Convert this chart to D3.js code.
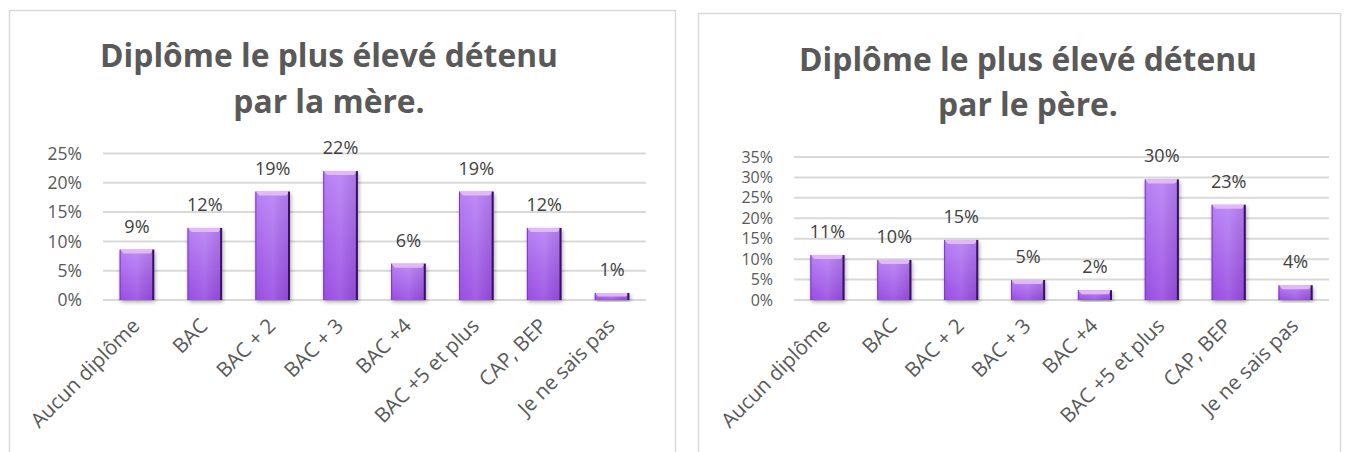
<!DOCTYPE html>
<html><head><meta charset="utf-8">
<script src="https://cdn.jsdelivr.net/npm/d3@7"></script>
<style>
html,body{margin:0;padding:0;background:#fff;}
svg{display:block;}
</style></head>
<body>
<svg id="chart" width="1346" height="452"></svg>
<script>
// ---- data ----
const categories = ["Aucun diplôme","BAC","BAC + 2","BAC + 3","BAC +4","BAC +5 et plus","CAP, BEP","Je ne sais pas"];
const motherValues = [8.6, 12.3, 18.5, 22.0, 6.2, 18.5, 12.3, 1.2];
const fatherValues = [11.0, 9.8, 14.7, 4.9, 2.4, 29.5, 23.3, 3.6];
const motherTicks = [0, 5, 10, 15, 20, 25];
const fatherTicks = [0, 5, 10, 15, 20, 25, 30, 35];
const motherTitle = ["Diplôme le plus élevé détenu", "par la mère."];
const fatherTitle = ["Diplôme le plus élevé détenu", "par le père."];

const svg = d3.select("#chart");
const defs = svg.append("defs");
const grad = defs.append("linearGradient").attr("id","barGrad").attr("x1",0).attr("y1",0).attr("x2",0).attr("y2",1);
grad.append("stop").attr("offset","0%").attr("stop-color","#b780f5");
grad.append("stop").attr("offset","100%").attr("stop-color","#984ce2");
const gradH = defs.append("linearGradient").attr("id","barGradH").attr("x1",0).attr("y1",0).attr("x2",1).attr("y2",0);
gradH.append("stop").attr("offset","0%").attr("stop-color","#ffffff").attr("stop-opacity",0.0);
gradH.append("stop").attr("offset","50%").attr("stop-color","#ffffff").attr("stop-opacity",0.10);
gradH.append("stop").attr("offset","100%").attr("stop-color","#000000").attr("stop-opacity",0.06);
const filt = defs.append("filter").attr("id","shadow").attr("x","-30%").attr("y","-10%").attr("width","160%").attr("height","130%");
filt.append("feGaussianBlur").attr("in","SourceAlpha").attr("stdDeviation",2);
filt.append("feOffset").attr("dx",1).attr("dy",2).attr("result","blur");
filt.append("feComponentTransfer").append("feFuncA").attr("type","linear").attr("slope",0.35);
const fm = filt.append("feMerge");
fm.append("feMergeNode");
fm.append("feMergeNode").attr("in","SourceGraphic");

const TEXT = "#595959";
const FONT = "'Open Sans', 'DejaVu Sans', sans-serif";

function drawChart(cfg){
  const g = svg.append("g");
  // frame
  g.append("rect").attr("x",cfg.box[0]+0.5).attr("y",cfg.box[1]+0.5)
    .attr("width",cfg.box[2]-cfg.box[0]).attr("height",cfg.box[3]-cfg.box[1])
    .attr("fill","#fff").attr("stroke","#d9d9d9").attr("stroke-width",1.5);

  // title
  const cx = cfg.titleCx;
  const t0 = g.append("text").attr("font-family",FONT).attr("font-weight",700).attr("font-size",28).text(cfg.title[0]);
  const w0 = t0.node().getComputedTextLength();
  t0.remove();
  const fs = 28 * cfg.titleWidth / w0;
  cfg.title.forEach((t,i)=>{
    g.append("text").attr("x",cx).attr("y",cfg.titleY[i]).attr("text-anchor","middle")
      .attr("font-family",FONT).attr("font-weight",700).attr("font-size",fs).attr("fill",TEXT).text(t);
  });

  const x = d3.scaleBand().domain(categories).range([cfg.plot[0],cfg.plot[1]]).paddingInner(0.49).paddingOuter(0.245);
  const y = d3.scaleLinear().domain([0, d3.max(cfg.ticks)]).range([cfg.plot[2], cfg.plot[3]]);

  // gridlines
  g.append("g").selectAll("line").data(cfg.ticks).join("line")
    .attr("x1",cfg.plot[0]).attr("x2",cfg.plot[1])
    .attr("y1",d=>y(d)).attr("y2",d=>y(d))
    .attr("stroke","#d9d9d9").attr("stroke-width",2);

  // y axis labels
  const yAxis = d3.axisLeft(y).tickValues(cfg.ticks).tickFormat(d=>d+"%").tickSize(0).tickPadding(0);
  const ya = g.append("g").attr("transform",`translate(${cfg.yLabelX},0)`).call(yAxis);
  ya.select(".domain").remove();
  ya.selectAll("text").attr("font-family",FONT).attr("font-size",cfg.yFont).attr("fill",TEXT);

  // bars
  const bars = g.append("g").selectAll("g").data(cfg.values.map((v,i)=>({c:categories[i],v}))).join("g");
  bars.append("rect").attr("x",d=>x(d.c)).attr("y",d=>y(d.v)).attr("width",x.bandwidth())
    .attr("height",d=>y(0)-y(d.v)).attr("fill","url(#barGrad)").attr("filter","url(#shadow)");
  bars.append("rect").attr("x",d=>x(d.c)).attr("y",d=>y(d.v)).attr("width",x.bandwidth())
    .attr("height",d=>y(0)-y(d.v)).attr("fill","url(#barGradH)");
  // top bevel
  bars.append("path").attr("d",d=>{
    const x0=x(d.c), x1=x0+x.bandwidth(), t=y(d.v), h=Math.min(4,(y(0)-t)/2);
    return `M${x0},${t}L${x1},${t}L${x1-h},${t+h}L${x0+h},${t+h}Z`;
  }).attr("fill","#e3b8fb");
  // left edge
  bars.append("line").attr("x1",d=>x(d.c)+0.5).attr("x2",d=>x(d.c)+0.5)
    .attr("y1",d=>y(d.v)).attr("y2",y(0)).attr("stroke","#7a38bf").attr("stroke-width",1);
  // right edge
  bars.append("line").attr("x1",d=>x(d.c)+x.bandwidth()-1).attr("x2",d=>x(d.c)+x.bandwidth()-1)
    .attr("y1",d=>y(d.v)).attr("y2",y(0)).attr("stroke","#35145a").attr("stroke-width",2);

  // data labels
  bars.append("text").attr("x",d=>x(d.c)+x.bandwidth()/2).attr("y",d=>y(d.v)-17)
    .attr("text-anchor","middle").attr("font-family",FONT).attr("font-size",18).attr("fill","#404040")
    .text(d=>Math.round(d.v)+"%");

  // x labels
  g.append("g").selectAll("text").data(categories).join("text")
    .attr("transform",d=>`translate(${x(d)+x.bandwidth()/2-1},${cfg.plot[2]+22}) rotate(-45)`)
    .attr("text-anchor","end").attr("dy","0.35em")
    .attr("font-family",FONT).attr("font-size",20.5).attr("fill",TEXT).text(d=>d);
}

drawChart({box:[9,10,675,470], title:motherTitle, titleY:[67,113], titleCx:329, titleWidth:458,
  plot:[103,646,300,153.5], ticks:motherTicks, values:motherValues, yLabelX:82, yFont:17.5});
drawChart({box:[698,13,1340,470], title:fatherTitle, titleY:[71,116], titleCx:1028, titleWidth:458,
  plot:[794,1329,300,157], ticks:fatherTicks, values:fatherValues, yLabelX:773, yFont:16});
</script>
</body></html>
